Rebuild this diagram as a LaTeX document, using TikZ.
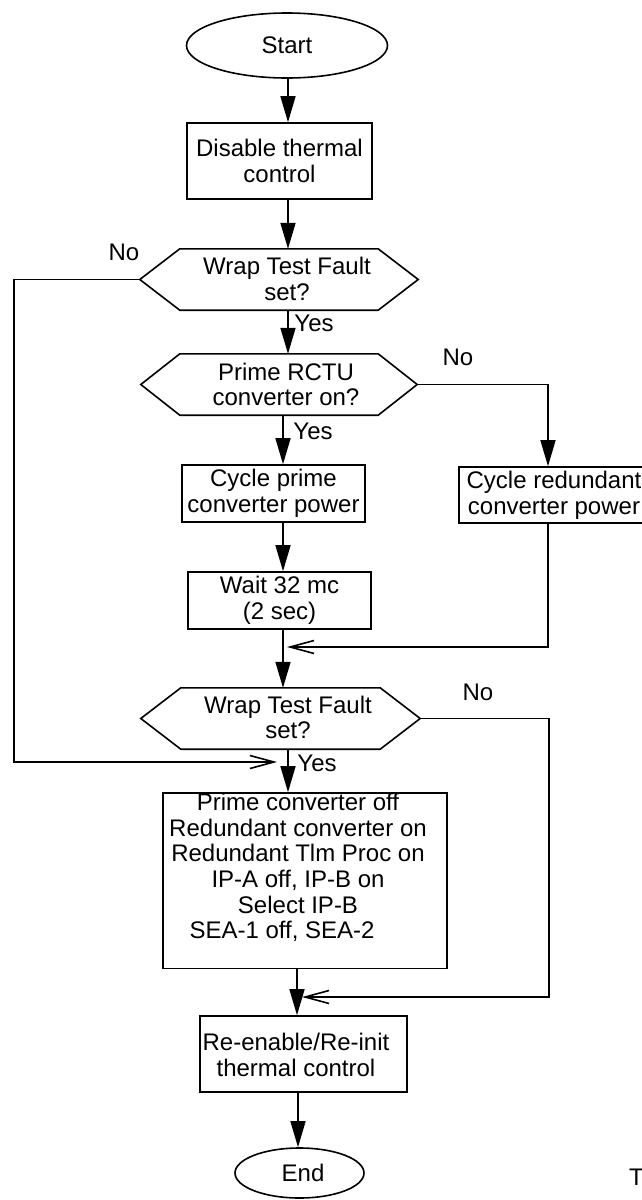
\documentclass[tikz,border=0pt]{standalone}
\usepackage{fontspec}
\setmainfont{Liberation Sans}
\usetikzlibrary{arrows.meta,shapes.geometric,calc}

% hexagonal decision frame drawn around a named node
\newcommand\hexframe[2]{%
  \draw[outline] (#1.west) -- ([xshift=#2]#1.north west) -- ([xshift=-#2]#1.north east)
    -- (#1.east) -- ([xshift=-#2]#1.south east) -- ([xshift=#2]#1.south west) -- cycle;}

\begin{document}
\begin{tikzpicture}[x=1pt,y=-1pt,
  every node/.style={font=\fontsize{24}{25.7}\selectfont, inner sep=0pt},
  outline/.style={line width=1.6pt, line join=miter},
  proc/.style={draw, outline, rectangle, align=center},
  term/.style={draw, outline, ellipse},
  frame/.style={rectangle, minimum height=61pt},
  txt/.style={align=center},
  flow/.style={line width=1.6pt, -{Triangle[length=26pt,width=15pt]}},
  merge/.style={line width=1.6pt, -{Straight Barb[length=24pt,width=13pt,line width=1.6pt]}}
]
\useasboundingbox (0,0) rectangle (642,1200);
\clip (0,0) rectangle (642,1200);

% connector columns and free arrow ends
\coordinate (cA) at (288,0);
\coordinate (cB) at (283,0);
\coordinate (cC) at (297,0);
\coordinate (cD) at (298,0);
\coordinate (cL) at (14,0);
\coordinate (cR) at (548,0);
\coordinate (cS) at (549,0);
\coordinate (tipL) at (277,762);
\coordinate (tipM) at (287,647);
\coordinate (tipN) at (302,997);

% terminals and steps
\node[term, minimum width=201pt, minimum height=65pt] (start) at (287,45.5) {Start};
\node[proc, minimum width=185pt, minimum height=76pt] (dis) at (279.5,161) {Disable thermal\\control};

\node[frame, minimum width=278pt] (h1) at (279,279.5) {};
\hexframe{h1}{40pt}
\node[txt] (h1t) at (287,279) {Wrap Test Fault\\set?};

\node[frame, minimum width=276pt] (h2) at (279,384.5) {};
\hexframe{h2}{39pt}
\node[txt] (h2t) at (286,384.5) {Prime RCTU\\converter on?};

\node[proc, minimum width=183pt, minimum height=57pt] (cyc) at (273.5,493.5) {Cycle prime\\converter power};
\node[proc, minimum width=183pt, minimum height=57pt] (wait) at (279.5,600.5) {Wait 32 mc\\(2 sec)};
\node[proc, minimum width=190pt, minimum height=56pt] (red) at (554,495) {Cycle redundant\\converter power};

\node[frame, minimum width=279pt] (h3) at (280.5,718.5) {};
\hexframe{h3}{40pt}
\node[txt] (h3t) at (288,717.5) {Wrap Test Fault\\set?};

\node[proc, minimum width=284pt, minimum height=175.5pt] (sw) at (305,880.75) {};
\node[txt] (swt) at (298,867.5) {Prime converter off\\Redundant converter on\\Redundant Tlm Proc on\\IP-A off, IP-B on\\Select IP-B\\SEA-1 off, SEA-2\hspace*{32pt}};

\node[proc, minimum width=207pt, minimum height=76pt] (ren) at (303.5,1054) {};
\node[txt] (rent) at (296,1055) {Re-enable/Re-init\\thermal control};

\node[term, minimum width=129pt, minimum height=50pt] (end) at (299.5,1173) {};
\node (endt) at (303,1173) {End};

\node[anchor=west] (tag) at (629,1177) {T};

% branch labels
\node (no1) at (124,252) {No};
\node (yes1) at (314,323) {Yes};
\node (no2) at (458,357) {No};
\node (yes2) at (313,431) {Yes};
\node (no3) at (478,692) {No};
\node (yes3) at (317,763) {Yes};

% connectors
\draw[flow] (start.south -| cA) -- (dis.north -| cA);
\draw[flow] (dis.south -| cA) -- (h1.north -| cA);
\draw[merge] (h1.west) -- (h1.west -| cL) |- (tipL);
\draw[flow] (h1.south -| cA) -- (h2.north -| cA);
\draw[flow] (h2.east) -- (h2.east -| cR) -- (red.north -| cR);
\draw[flow] (h2.south -| cB) -- (cyc.north -| cB);
\draw[flow] (cyc.south -| cB) -- (wait.north -| cB);
\draw[flow] (wait.south -| cB) -- (h3.north -| cB);
\draw[merge] (red.south -| cR) |- (tipM);
\draw[merge] (h3.east) -- (h3.east -| cS) |- (tipN);
\draw[flow] (h3.south -| cA) -- (sw.north -| cA);
\draw[flow] (sw.south -| cC) -- (ren.north -| cC);
\draw[flow] (ren.south -| cD) -- (end.north -| cD);
\end{tikzpicture}
\end{document}
